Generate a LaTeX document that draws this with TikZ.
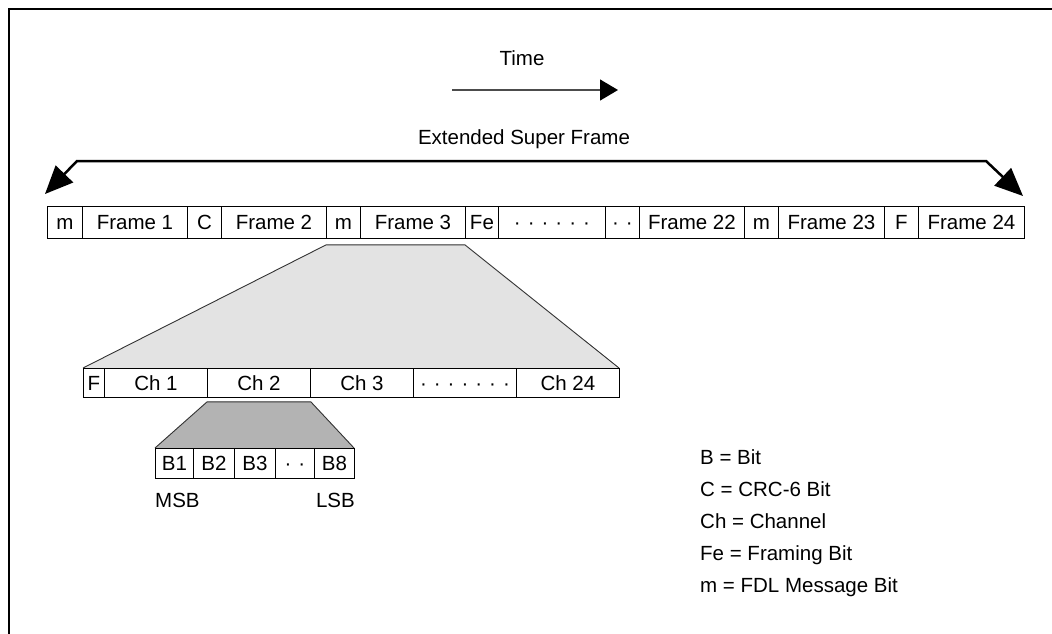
\documentclass[tikz,border=0pt]{standalone}
\usepackage{fontspec}
\setmainfont{Liberation Sans}
\usetikzlibrary{arrows.meta,calc}
\definecolor{trapA}{HTML}{E3E3E3}
\definecolor{trapB}{HTML}{B3B3B3}
\definecolor{edgeC}{HTML}{333333}
\newcommand\mkcell[6]{\node[cell, minimum width={#3-#2}, minimum height=#5] (#1) at (#2,#4) {#6};}
\newcommand\dg{\hspace{7pt}}
\begin{document}
\begin{tikzpicture}[x=1pt,y=-1pt,
  every node/.style={font=\fontsize{20.5}{24}\selectfont, inner sep=0pt},
  cell/.style={draw=black, line width=0.9pt, rectangle, anchor=north west, fill=white, text height=14.7pt, text depth=0pt},
  label/.style={anchor=base},
  legend/.style={anchor=base west},
  border/.style={line width=2.5pt, black},
  bigline/.style={line width=2.5pt, black, {Triangle[length=28pt,width=24pt]}-{Triangle[length=28pt,width=24pt]}},
  timeline/.style={line width=1.3pt, black!70, -{Triangle[length=18pt,width=21pt,color=black]}},
  trapone/.style={fill=trapA, draw=edgeC, line width=0.9pt},
  traptwo/.style={fill=trapB, draw=edgeC, line width=0.9pt}
]
\useasboundingbox (0,0) rectangle (1052,633);
% outer frame (only top and left visible)
\draw[border] (9,660) -- (9,9) -- (1080,9);

% time arrow
\node[label] (time) at (522,65) {Time};
\coordinate (ta) at (452,90);
\coordinate (tb) at (618,90);
\draw[timeline] (ta) -- (tb);

% extended super frame
\node[label] (esf) at (524,144) {Extended Super Frame};
\coordinate (L) at (45,194);
\coordinate (Lc) at (77,161);
\coordinate (Rc) at (986,161);
\coordinate (R) at (1023,196);
\draw[bigline] (L) -- (Lc) -- (Rc) -- (R);

% frame row
\mkcell{ma}{47}{82}{206}{32}{m}
\mkcell{fa}{82}{187}{206}{32}{Frame 1}
\mkcell{cc}{187}{221}{206}{32}{C}
\mkcell{fb}{221}{326}{206}{32}{Frame 2}
\mkcell{mb}{326}{360}{206}{32}{m}
\mkcell{fc}{360}{465}{206}{32}{Frame 3}
\mkcell{fe}{465}{498}{206}{32}{Fe}
\mkcell{da}{498}{605}{206}{32}{·\dg·\dg·\dg·\dg·\dg·}
\mkcell{db}{605}{639}{206}{32}{·\dg·}
\mkcell{fv}{639}{744}{206}{32}{Frame 22}
\mkcell{mc}{744}{778}{206}{32}{m}
\mkcell{fw}{778}{884}{206}{32}{Frame 23}
\mkcell{ff}{884}{918}{206}{32}{F}
\mkcell{fx}{918}{1024}{206}{32}{Frame 24}

% channel row
\coordinate (chL) at (83,368);
\coordinate (chR) at (619,368);
\fill[trapA] (chL) -- ($(mb.south west)+(0,6)$) -- ($(fe.south west)+(0,6)$) -- (chR) -- cycle;
\draw[trapone] (chL) -- ($(mb.south west)+(0,6)$) -- ($(fe.south west)+(0,6)$) -- (chR);
\mkcell{cf}{83}{104}{368}{29}{F}
\mkcell{ca}{104}{207}{368}{29}{Ch 1}
\mkcell{cb}{207}{310}{368}{29}{Ch 2}
\mkcell{cd}{310}{413}{368}{29}{Ch 3}
\mkcell{ce}{413}{516}{368}{29}{·\dg·\dg·\dg·\dg·\dg·\dg·}
\mkcell{cx}{516}{619}{368}{29}{Ch 24}

% bit row
\coordinate (bL) at (155,448);
\coordinate (bR) at (354,448);
\fill[trapB] (bL) -- ($(cb.south west)+(0,4)$) -- ($(cb.south east)+(0,4)$) -- (bR) -- cycle;
\draw[traptwo] (bL) -- ($(cb.south west)+(0,4)$) -- ($(cb.south east)+(0,4)$) -- (bR);
\mkcell{ba}{155}{193}{448}{30}{B1}
\mkcell{bb}{193}{234}{448}{30}{B2}
\mkcell{bc}{234}{275}{448}{30}{B3}
\mkcell{bd}{275}{314}{448}{30}{·\dg·}
\mkcell{bh}{314}{354}{448}{30}{B8}

\node[anchor=base west] (msb) at (155,507) {MSB};
\node[anchor=base east] (lsb) at (355,507) {LSB};

% legend
\node[legend] (lg1) at (700,464) {B = Bit};
\node[legend] (lg2) at (700,496) {C = CRC-6 Bit};
\node[legend] (lg3) at (700,528) {Ch = Channel};
\node[legend] (lg4) at (700,560) {Fe = Framing Bit};
\node[legend] (lg5) at (700,592) {m = FDL Message Bit};
\end{tikzpicture}
\end{document}
